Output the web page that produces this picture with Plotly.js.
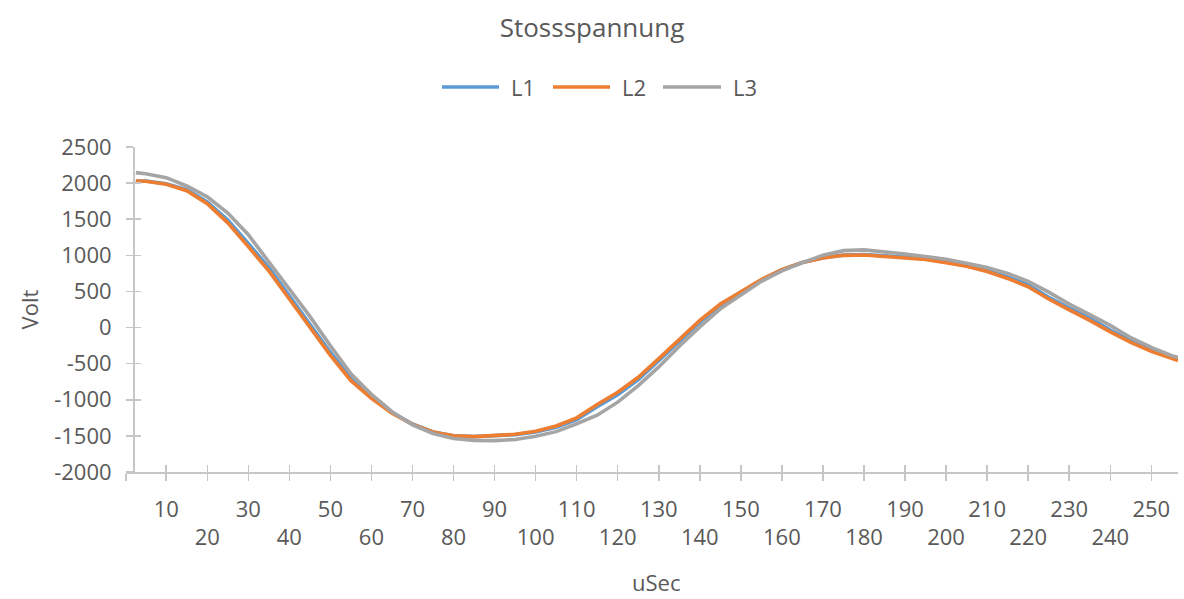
<!DOCTYPE html>
<html>
<head>
<meta charset="utf-8">
<script src="https://cdn.plot.ly/plotly-3.0.1.min.js"></script>
<style>html,body{margin:0;padding:0;background:#fff;}#chart{width:1184px;height:599px;}</style>
</head>
<body>
<div id="chart"></div>
<script>
// uSec sample positions
var usec = [2.6, 5, 10, 15, 20, 25, 30, 35, 40, 45, 50, 55, 60, 65, 70, 75, 80, 85, 90, 95,
  100, 105, 110, 115, 120, 125, 130, 135, 140, 145, 150, 155, 160, 165, 170, 175, 180, 185, 190, 195,
  200, 205, 210, 215, 220, 225, 230, 235, 240, 245, 250, 255, 256.5];

var L1 = [2030, 2030, 1992, 1910, 1740, 1490, 1165, 830, 440, 45, -345, -705, -960, -1175, -1335, -1445, -1500, -1510, -1500, -1482,
  -1445, -1380, -1275, -1095, -930, -720, -460, -190, 75, 300, 490, 660, 800, 900, 968, 1003, 1010, 995, 975, 955,
  915, 865, 790, 700, 590, 420, 270, 130, -35, -185, -310, -415, -440];

var L2 = [2030, 2025, 1985, 1895, 1715, 1450, 1120, 785, 395, 0, -385, -735, -980, -1185, -1340, -1445, -1500, -1510, -1500, -1478,
  -1436, -1362, -1250, -1065, -895, -688, -430, -163, 100, 325, 500, 665, 800, 900, 963, 1000, 1005, 985, 968, 943,
  898, 850, 775, 680, 565, 395, 245, 100, -60, -205, -330, -430, -457];

var L3 = [2145, 2130, 2075, 1960, 1810, 1585, 1285, 912, 537, 155, -254, -641, -925, -1165, -1349, -1467, -1536, -1562, -1565, -1550,
  -1506, -1441, -1332, -1213, -1033, -803, -545, -258, 10, 259, 450, 640, 785, 900, 1000, 1065, 1076, 1050, 1018, 985,
  946, 890, 830, 750, 640, 490, 325, 180, 30, -140, -275, -390, -411];

var seriesNames = ['L1', 'L2', 'L3'];
var tickValsX = [10, 20, 30, 40, 50, 60, 70, 80, 90, 100, 110, 120, 130, 140, 150, 160, 170, 180, 190, 200, 210, 220, 230, 240, 250];
var tickValsY = [-2000, -1500, -1000, -500, 0, 500, 1000, 1500, 2000, 2500];
var tickTextY = ['-2000', '-1500', '-1000', '-500', '0', '500', '1000', '1500', '2000', '2500'];

var colors = ['#5B9BD5', '#ED7D31', '#A5A5A5'];
var txt = '#595959';
var axc = '#C6C6C6';
var FONT = '"Open Sans", "DejaVu Sans", sans-serif';

var W = 1184, H = 599, L = 126, R = 6, T = 147, B = 127;
var pw = W - L - R, ph = H - T - B;
function px2x(p) { return (p - L) / pw; }
function px2y(p) { return (H - B - p) / ph; }

var data = [L1, L2, L3].map(function (ys, i) {
  return {
    x: usec, y: ys, type: 'scatter', mode: 'lines', name: seriesNames[i],
    line: { color: colors[i], width: 3.6 }, showlegend: false, hoverinfo: 'x+y+name'
  };
});

var allTicks = [0.2].concat(tickValsX);
var oddText = [''].concat(tickValsX.map(function (v, i) { return i % 2 === 0 ? String(v) : ''; }));
var evenText = [''].concat(tickValsX.map(function (v, i) { return i % 2 === 1 ? String(v) : ''; }));

var xr = [0.2, 256.5];
var yr = [-2000, 2500];
var ypos = px2x(133);

// custom legend
var legendY = px2y(87);
var legendItems = [[442, 499, 509], [553, 610, 620], [663, 721, 731]];
var shapes = [], annotations = [];
legendItems.forEach(function (it, i) {
  shapes.push({ type: 'line', xref: 'paper', yref: 'paper', x0: px2x(it[0]), x1: px2x(it[1]), y0: legendY, y1: legendY,
    line: { color: colors[i], width: 3.6 } });
  annotations.push({ xref: 'paper', yref: 'paper', x: px2x(it[2]), y: legendY, xanchor: 'left', yanchor: 'middle',
    text: seriesNames[i], showarrow: false, font: { family: FONT, size: 22, color: txt } });
});
// x axis title
annotations.push({ xref: 'paper', yref: 'paper', x: px2x(656), y: px2y(598), xanchor: 'center', yanchor: 'bottom',
  borderpad: 0, text: 'uSec', showarrow: false, font: { family: FONT, size: 22, color: txt } });

var layout = {
  width: W, height: H,
  margin: { l: L, r: R, t: T, b: B, pad: 0 },
  paper_bgcolor: '#fff', plot_bgcolor: '#fff',
  font: { family: FONT, size: 22, color: txt },
  title: { text: 'Stossspannung', font: { family: FONT, size: 26, color: txt }, x: 0.5, xref: 'container', y: 1 - 28 / H, yanchor: 'middle' },
  showlegend: false,
  xaxis: {
    range: xr, showgrid: false, zeroline: false, showline: true, linecolor: axc, linewidth: 1.5,
    ticks: 'outside', ticklen: 7, tickwidth: 1.5, tickcolor: axc,
    tickmode: 'array', tickvals: allTicks, ticktext: oddText, tickangle: 0,
    tickfont: { family: FONT, size: 22, color: txt }, ticklabelstandoff: 10, fixedrange: true
  },
  xaxis2: {
    overlaying: 'x', anchor: 'y', side: 'bottom', range: xr, showgrid: false, zeroline: false, showline: false,
    ticks: 'inside', ticklen: 7, tickwidth: 1.5, tickcolor: axc,
    tickmode: 'array', tickvals: allTicks, ticktext: evenText, tickangle: 0,
    tickfont: { family: FONT, size: 22, color: txt }, ticklabelstandoff: 50
  },
  yaxis: {
    range: yr, anchor: 'free', position: ypos, showgrid: false, zeroline: false, showline: true, linecolor: axc, linewidth: 1.5,
    ticks: 'outside', ticklen: 7, tickwidth: 1.5, tickcolor: axc,
    tickmode: 'array', tickvals: tickValsY, ticktext: tickTextY,
    tickfont: { family: FONT, size: 22, color: txt }, ticklabelstandoff: 10,
    title: { text: 'Volt', font: { family: FONT, size: 22, color: txt }, standoff: 8 }, fixedrange: true
  },
  yaxis2: {
    overlaying: 'y', anchor: 'free', position: ypos, range: yr, showgrid: false, zeroline: false, showline: false,
    ticks: 'inside', ticklen: 7, tickwidth: 1.5, tickcolor: axc, tickmode: 'array', tickvals: tickValsY, showticklabels: false
  },
  shapes: shapes,
  annotations: annotations
};

// invisible helper trace to activate the secondary (tick) axes
data.push({ x: [xr[0]], y: [yr[0]], xaxis: 'x2', yaxis: 'y2', type: 'scatter', mode: 'markers',
  marker: { opacity: 0, size: 1 }, showlegend: false, hoverinfo: 'skip' });

Plotly.newPlot('chart', data, layout, { displayModeBar: false, staticPlot: true });
</script>
</body>
</html>
